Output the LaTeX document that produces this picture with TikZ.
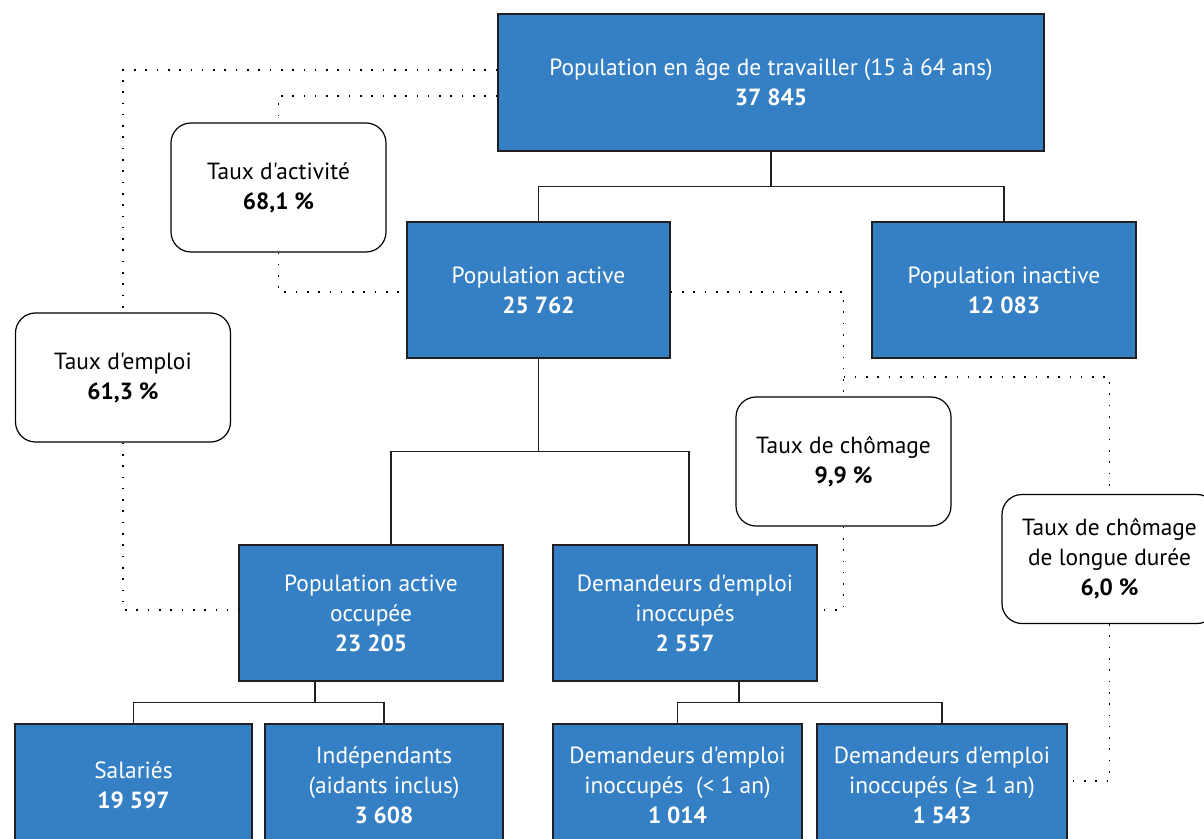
\documentclass[tikz,border=0pt]{standalone}
\usepackage{fontspec}
\setmainfont{PT Sans}[Ligatures=TeXOff]
\newfontfamily\symb{DejaVu Sans}[Scale=0.9]
\definecolor{bleu}{RGB}{53,128,196}
\definecolor{bord}{RGB}{35,31,32}

\begin{document}
\begin{tikzpicture}[x=0.5pt,y=-0.5pt,
  bloc/.style={draw=bord, line width=0.8pt, fill=bleu, text=white, align=center,
    inner sep=0pt, font=\fontsize{11.7pt}{15pt}\selectfont},
  taux/.style={draw=black, line width=0.6pt, rounded corners=10pt, fill=white, align=center,
    inner sep=0pt, minimum width=107.5pt, minimum height=64.5pt, font=\fontsize{11.7pt}{15pt}\selectfont},
  lien/.style={draw=bord, line width=0.6pt},
  pointille/.style={line width=0.8pt, dash pattern=on 0.8pt off 4.85pt}]
		\useasboundingbox (0,0) rectangle (1204,839);
		% blocs
		\node[bloc, minimum width=273pt, minimum height=68.5pt] (pat) at (771,82.5) {Population en âge de travailler (15 à 64 ans)\\\textbf{37 845}};
		\node[bloc, minimum width=131.5pt, minimum height=68pt] (actif) at (538.5,290) {Population active\\\textbf{25 762}};
		\node[bloc, minimum width=132pt, minimum height=68pt] (inactif) at (1004,290) {Population inactive\\\textbf{12 083}};
		\node[bloc, minimum width=132pt, minimum height=68pt] (occupee) at (371,613) {Population active\\occupée\\\textbf{23 205}};
		\node[bloc, minimum width=132pt, minimum height=68pt] (dei) at (685,613) {Demandeurs d'emploi\\inoccupés\\\textbf{2 557}};
		\node[bloc, minimum width=118.5pt, minimum height=61pt] (salaries) at (133.5,785) {Salariés\\\textbf{19 597}};
		\node[bloc, minimum width=119pt, minimum height=61pt] (indep) at (384,785) {Indépendants\\(aidants inclus)\\\textbf{3 608}};
		\node[bloc, minimum width=124.5pt, minimum height=61pt] (deimoins) at (677.5,785) {Demandeurs d'emploi\\inoccupés~ (< 1 an)\\\textbf{1 014}};
		\node[bloc, minimum width=125pt, minimum height=61pt] (deiplus) at (942,785) {Demandeurs d'emploi\\inoccupés ({\symb ≥} 1 an)\\\textbf{1 543}};
		% taux
		\node[taux] (activite) at (278.5,187.5) {Taux d'activité\\\textbf{68,1 \%}};
		\node[taux] (emploi) at (123,377.5) {Taux d'emploi\\\textbf{61,3 \%}};
		\node[taux] (chomage) at (843.5,461.5) {Taux de chômage\\\textbf{9,9 \%}};
		\node[taux] (chomageld) at (1109.5,559) {Taux de chômage\\de longue durée\\\textbf{6,0 \%}};
		% liens
		\draw[lien] (pat.south) -- ++(0,35) -| (actif.north);
		\draw[lien] (pat.south) -- ++(0,35) -| (inactif.north);
		\draw[lien] (actif.south) -- ++(0,93) -| ([xshift=10pt]occupee.north);
		\draw[lien] (actif.south) -- ++(0,93) -| ([xshift=2pt]dei.north);
		\draw[lien] ([xshift=-28pt]occupee.south) -- ++(0,21) -| (salaries.north);
		\draw[lien] ([xshift=-28pt]occupee.south) -- ++(0,21) -| (indep.north);
		\draw[lien] ([xshift=27pt]dei.south) -- ++(0,21) -| (deimoins.north);
		\draw[lien] ([xshift=27pt]dei.south) -- ++(0,21) -| (deiplus.north);
		% pointilles
		\draw[pointille] ([yshift=6.25pt]pat.west) -| (emploi.north);
		\draw[pointille] (emploi.south) |- ([yshift=1.5pt]occupee.west);
		\draw[pointille] ([yshift=-6.75pt]pat.west) -| (activite.north);
		\draw[pointille] (activite.south) |- ([yshift=-1pt]actif.west);
		\draw[pointille] ([yshift=-1pt]actif.east) -| (chomage.north);
		\draw[pointille] (chomage.south) |- ([yshift=1.5pt]dei.east);
		\coordinate (embranchement) at (843.5,377);
		\draw[pointille] (embranchement) -| (chomageld.north);
		\draw[pointille] (chomageld.south) |- ([yshift=2pt]deiplus.east);
\end{tikzpicture}
\end{document}
